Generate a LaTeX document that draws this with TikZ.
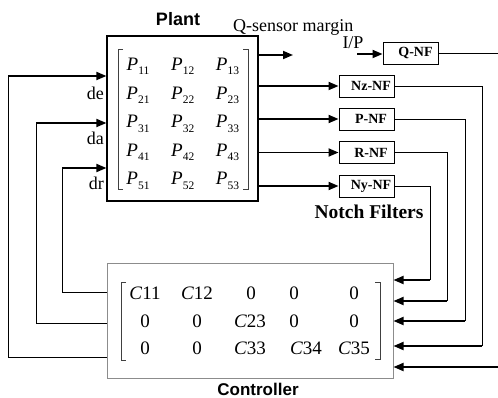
\documentclass[tikz,border=0pt]{standalone}
\usepackage{fontspec}
\setmainfont{Liberation Serif}
\setsansfont{Liberation Sans}
\usetikzlibrary{arrows.meta}
\newcommand\myfs[1]{\fontsize{#1}{#1}\selectfont}
\newcommand\mysub[1]{\raisebox{-4.5pt}{\myfs{11.5}#1}}
\begin{document}
\begin{tikzpicture}[x=1pt,y=-1pt,
  thinln/.style={line width=0.9pt},
  thickarr/.style={line width=1.8pt,-{Triangle[length=10pt,width=8pt]}},
  nf/.style={draw,line width=0.9pt,minimum width=55pt,minimum height=22pt,inner sep=1pt,font=\bfseries\myfs{14}},
  pent/.style={font=\myfs{19},inner sep=0pt,anchor=base},
  cent/.style={font=\myfs{19},inner sep=0pt},
  brk/.style={draw=black!75,line width=0.9pt},
  lab/.style={font=\myfs{18},inner sep=0pt}]
\useasboundingbox (0,0) rectangle (498,398);

% main blocks
\node[draw,line width=1.2pt,minimum width=151pt,minimum height=165pt,inner sep=0pt] (plant) at (182.5,118.5) {};
\node[draw=black!45,line width=1pt,minimum width=286pt,minimum height=115pt,inner sep=0pt] (ctrl) at (250,320.5) {};
\node[font=\sffamily\bfseries\myfs{18}] (plantlab) at (178,19) {Plant};
\node[font=\sffamily\bfseries\myfs{17}] (ctrllab) at (258,389) {Controller};

% plant matrix
\foreach \r [evaluate=\r as \yb using {70.5+28.6*(\r-1)}] in {1,...,5}{
  \foreach \c [evaluate=\c as \xc using {138+44.75*(\c-1)}] in {1,2,3}{
    \node[pent] (p\r\c) at (\xc,\yb) {\textit{P}\mysub{\r\c}};
  }
}
\draw[brk] (123,49) -- (118,49) -- (118,189) -- (123,189);
\draw[brk] (243,49) -- (248,49) -- (248,189) -- (243,189);

% controller matrix
\node[cent] (c11) at (145,293) {\textit{C}11};
\node[cent] (c12) at (197,293) {\textit{C}12};
\node[cent] (c13) at (251,293) {0};
\node[cent] (c14) at (294,293) {0};
\node[cent] (c15) at (354,293) {0};
\node[cent] (c21) at (145,321) {0};
\node[cent] (c22) at (197,321) {0};
\node[cent] (c23) at (250,321) {\textit{C}23};
\node[cent] (c24) at (294,321) {0};
\node[cent] (c25) at (354,321) {0};
\node[cent] (c31) at (145,348) {0};
\node[cent] (c32) at (197,348) {0};
\node[cent] (c33) at (250,348) {\textit{C}33};
\node[cent] (c34) at (306,348) {\textit{C}34};
\node[cent] (c35) at (354,348) {\textit{C}35};
\draw[brk] (126,282) -- (121,282) -- (121,360) -- (126,360);
\draw[brk] (375,282) -- (380,282) -- (380,359) -- (375,359);

% notch filters
\node[nf] (qnf) at (410.5,53) {\hspace*{10pt}Q-NF};
\node[nf] (nznf) at (366.5,86) {\hspace*{9pt}Nz-NF};
\node[nf] (pnf) at (366.5,119) {\hspace*{9pt}P-NF};
\node[nf] (rnf) at (366.5,152.5) {\hspace*{9pt}R-NF};
\node[nf] (nynf) at (366.5,186) {\hspace*{9pt}Ny-NF};
\node[font=\bfseries\myfs{19.5},inner sep=0pt] (notch) at (369,212) {Notch Filters};

% texts
\node[lab,anchor=west] (qsm) at (233,27) {Q-sensor margin};
\node[lab] (iplab) at (353,43) {I/P};
\node[lab,anchor=east] (delab) at (104,93) {de};
\node[lab,anchor=east] (dalab) at (104,138) {da};
\node[lab,anchor=east] (drlab) at (104,183) {dr};

% plant outputs
\coordinate (qs) at (293,55);
\draw[thickarr] (plant.east |- qs) -- (qs);
\coordinate (ip) at (357,54);
\draw[thickarr] (ip) -- (qnf.west |- ip);
\draw[thickarr] (plant.east |- nznf) -- (nznf.west);
\draw[thickarr] (plant.east |- pnf) -- (pnf.west);
\draw[thickarr] (plant.east |- rnf) -- (rnf.west);
\draw[thickarr] (plant.east |- nynf) -- (nynf.west);

% filter outputs to controller
\coordinate (qo) at (498,53);
\coordinate (qi) at (498,367);
\draw[thinln] (qnf.east) -- (qo);
\draw[thickarr] (qi) -- (ctrl.east |- qi);
\draw[thinln] (nznf.east) -- (482,86) -- (482,346);
\draw[thickarr] (482,346) -- (ctrl.east |- 0,346);
\draw[thinln] (pnf.east) -- (465,119) -- (465,321);
\draw[thickarr] (465,321) -- (ctrl.east |- 0,321);
\draw[thinln] (rnf.east) -- (447,152.5) -- (447,301);
\draw[thickarr] (447,301) -- (ctrl.east |- 0,301);
\draw[thinln] (nynf.east) -- (430,186) -- (430,280);
\draw[thickarr] (430,280) -- (ctrl.east |- 0,280);

% controller outputs back to plant
\draw[thinln] (ctrl.west |- 0,357) -- (8,357) -- (8,76);
\draw[thickarr] (8,76) -- (plant.west |- 0,76);
\draw[thinln] (ctrl.west |- 0,323) -- (36,323) -- (36,123);
\draw[thickarr] (36,123) -- (plant.west |- 0,123);
\draw[thinln] (ctrl.west |- 0,292) -- (62,292) -- (62,168);
\draw[thickarr] (62,168) -- (plant.west |- 0,168);
\end{tikzpicture}
\end{document}
